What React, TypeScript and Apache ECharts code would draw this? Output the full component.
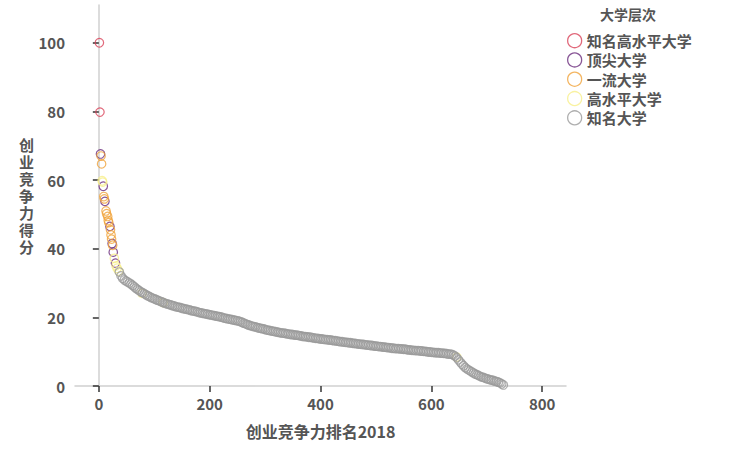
import React, { useEffect, useRef } from "react";
import * as echarts from "echarts";

const seriesNames = ["知名高水平大学", "顶尖大学", "一流大学", "高水平大学", "知名大学"];
const seriesColors = ["#d9435a", "#6a2c7c", "#f0a23a", "#f7ef8a", "#9a9a9a"];

const redPoints = [[1, 100], [2, 79.8]];
const purplePoints = [[3, 67.6], [8, 58.2], [11, 53.8], [20, 46.5], [24, 41.5], [26, 39.0], [30, 35.8]];
const orangePoints = [
  [4, 67.0], [5, 64.7], [9, 55.2], [10, 54.5], [13, 51.0], [14, 50.2], [16, 49.4],
  [17, 48.2], [18, 47.6], [21, 45.5], [22, 44.0], [23, 42.8], [25, 41.0],
];
const yellowPoints = [
  [6, 59.8], [7, 59.4], [28, 37.2], [31, 35.0], [33, 34.3], [36, 33.5],
  [78, 27.0], [116, 24.3], [646, 8.4],
];
const grayPoints = [
  [37, 33.2], [40, 32.1], [43, 31.4], [46, 30.9], [49, 30.6], [52, 30.3], [55, 30.0], [58, 29.7],
  [61, 29.3], [64, 28.9], [67, 28.5], [70, 28.1], [73, 27.8], [76, 27.4], [79, 27.2], [82, 26.9],
  [85, 26.6], [88, 26.3], [91, 26.1], [94, 25.8], [97, 25.6], [100, 25.4], [103, 25.2], [106, 25.0],
  [109, 24.8], [112, 24.6], [115, 24.4], [118, 24.2], [121, 24.0], [124, 23.9], [127, 23.7], [130, 23.6],
  [133, 23.4], [136, 23.3], [139, 23.1], [142, 23.0], [145, 22.9], [148, 22.8], [151, 22.6], [154, 22.5],
  [157, 22.4], [160, 22.3], [163, 22.2], [166, 22.0], [169, 21.9], [172, 21.8], [175, 21.7], [178, 21.6],
  [181, 21.4], [184, 21.3], [187, 21.2], [190, 21.1], [193, 21.0], [196, 20.9], [199, 20.8], [202, 20.7],
  [205, 20.6], [208, 20.5], [211, 20.4], [214, 20.3], [217, 20.2], [220, 20.1], [223, 20.0], [226, 19.8],
  [229, 19.7], [232, 19.6], [235, 19.5], [238, 19.4], [241, 19.3], [244, 19.2], [247, 19.1], [250, 19.0],
  [253, 18.9], [256, 18.7], [259, 18.5], [262, 18.3], [265, 18.1], [268, 17.9], [271, 17.7], [274, 17.6],
  [277, 17.4], [280, 17.3], [283, 17.2], [286, 17.0], [289, 16.9], [292, 16.8], [295, 16.7], [298, 16.6],
  [301, 16.4], [304, 16.3], [307, 16.2], [310, 16.1], [313, 16.0], [316, 15.9], [319, 15.8], [322, 15.7],
  [325, 15.6], [328, 15.5], [331, 15.4], [334, 15.4], [337, 15.3], [340, 15.2], [343, 15.1], [346, 15.0],
  [349, 15.0], [352, 14.9], [355, 14.8], [358, 14.8], [361, 14.7], [364, 14.6], [367, 14.5], [370, 14.4],
  [373, 14.4], [376, 14.3], [379, 14.2], [382, 14.2], [385, 14.1], [388, 14.0], [391, 13.9], [394, 13.9],
  [397, 13.8], [400, 13.7], [403, 13.7], [406, 13.6], [409, 13.5], [412, 13.5], [415, 13.4], [418, 13.4],
  [421, 13.3], [424, 13.2], [427, 13.2], [430, 13.1], [433, 13.0], [436, 12.9], [439, 12.9], [442, 12.8],
  [445, 12.7], [448, 12.7], [451, 12.6], [454, 12.6], [457, 12.5], [460, 12.4], [463, 12.4], [466, 12.3],
  [469, 12.2], [472, 12.2], [475, 12.1], [478, 12.1], [481, 12.0], [484, 11.9], [487, 11.9], [490, 11.8],
  [493, 11.8], [496, 11.7], [499, 11.6], [502, 11.6], [505, 11.5], [508, 11.5], [511, 11.4], [514, 11.3],
  [517, 11.3], [520, 11.2], [523, 11.2], [526, 11.1], [529, 11.0], [532, 11.0], [535, 10.9], [538, 10.9],
  [541, 10.9], [544, 10.8], [547, 10.8], [550, 10.7], [553, 10.7], [556, 10.6], [559, 10.5], [562, 10.5],
  [565, 10.4], [568, 10.4], [571, 10.3], [574, 10.3], [577, 10.3], [580, 10.2], [583, 10.2], [586, 10.1],
  [589, 10.1], [592, 10.0], [595, 9.9], [598, 9.9], [601, 9.8], [604, 9.8], [607, 9.7], [610, 9.7],
  [613, 9.7], [616, 9.6], [619, 9.6], [622, 9.5], [625, 9.5], [628, 9.4], [631, 9.3], [634, 9.3],
  [637, 9.2], [640, 9.0], [643, 8.7], [646, 8.2], [649, 7.6], [652, 7.0], [655, 6.4], [658, 5.9],
  [661, 5.4], [664, 5.0], [667, 4.7], [670, 4.4], [673, 4.1], [676, 3.8], [679, 3.5], [682, 3.3],
  [685, 3.1], [688, 2.8], [691, 2.6], [694, 2.5], [697, 2.3], [700, 2.1], [703, 2.0], [706, 1.8],
  [709, 1.7], [712, 1.6], [715, 1.4], [718, 1.3], [721, 1.1], [724, 0.9], [727, 0.6], [730, 0.3],
];
const allSeriesData = [redPoints, purplePoints, orangePoints, yellowPoints, grayPoints];

const xTicks = [0, 200, 400, 600, 800];
const yTicks = [0, 20, 40, 60, 80, 100];

const FONT = "'Noto Sans CJK SC', 'Noto Sans', sans-serif";
const TEXT_COLOR = "#555";

export default function App() {
  const ref = useRef<HTMLDivElement>(null);
  useEffect(() => {
    if (!ref.current) return;
    const chart = echarts.init(ref.current, null, { renderer: "svg" });
    chart.setOption({
      animation: false,
      backgroundColor: "#fff",
      textStyle: { fontFamily: FONT },
      title: {
        text: "大学层次",
        left: 600,
        top: 7,
        padding: 0,
        textStyle: { fontSize: 14, fontWeight: "bold", color: TEXT_COLOR, fontFamily: FONT },
      },
      legend: {
        orient: "vertical",
        left: 567,
        top: 33,
        itemWidth: 14,
        itemHeight: 14,
        itemGap: 4,
        padding: 0,
        icon: "circle",
        textStyle: {
          fontSize: 15,
          lineHeight: 15,
          fontWeight: "bold",
          color: TEXT_COLOR,
          fontFamily: FONT,
        },
        data: seriesNames.map((n, i) => ({
          name: n,
          itemStyle: { color: "rgba(0,0,0,0)", borderColor: seriesColors[i], borderWidth: 1.3 },
        })),
      },
      grid: { left: 75, right: 190, top: 5, bottom: 68, containLabel: false },
      xAxis: {
        type: "value",
        min: -43,
        max: 843,
        name: "创业竞争力排名2018",
        nameLocation: "middle",
        nameGap: 37,
        nameTextStyle: { fontSize: 16, fontWeight: "bold", color: TEXT_COLOR, fontFamily: FONT },
        splitLine: { show: false },
        axisLine: { show: true, onZero: false, lineStyle: { color: "#d0d0d0", width: 1.5 } },
        axisTick: { show: true, customValues: xTicks, length: 6, lineStyle: { color: "#333", width: 1.5 } },
        axisLabel: {
          customValues: xTicks,
          margin: 10,
          fontSize: 15,
          fontWeight: "bold",
          color: TEXT_COLOR,
          fontFamily: FONT,
        },
      },
      yAxis: {
        type: "value",
        min: 0,
        max: 111,
        name: "创\n业\n竞\n争\n力\n得\n分",
        nameLocation: "middle",
        nameRotate: 0,
        nameGap: 41,
        nameMoveOverlap: false,
        nameTextStyle: {
          fontSize: 15,
          fontWeight: "bold",
          color: TEXT_COLOR,
          fontFamily: FONT,
          lineHeight: 17,
        },
        splitLine: { show: false },
        axisLine: { show: true, lineStyle: { color: "#d0d0d0", width: 1.5 } },
        axisTick: { show: true, customValues: yTicks, length: 6, lineStyle: { color: "#333", width: 1.5 } },
        axisLabel: {
          customValues: yTicks,
          margin: 10,
          fontSize: 15,
          fontWeight: "bold",
          color: TEXT_COLOR,
          fontFamily: FONT,
        },
      },
      series: allSeriesData.map((d, i) => ({
        name: seriesNames[i],
        type: "scatter",
        data: d,
        symbol: "circle",
        symbolSize: 8.5,
        itemStyle: { color: "rgba(0,0,0,0)", borderColor: seriesColors[i], borderWidth: 1.2 },
        emphasis: { disabled: true },
      })),
    });
    return () => chart.dispose();
  }, []);
  return (
    <div
      ref={ref}
      style={{ position: "absolute", left: 0, top: 0, width: 756, height: 454 }}
    />
  );
}
